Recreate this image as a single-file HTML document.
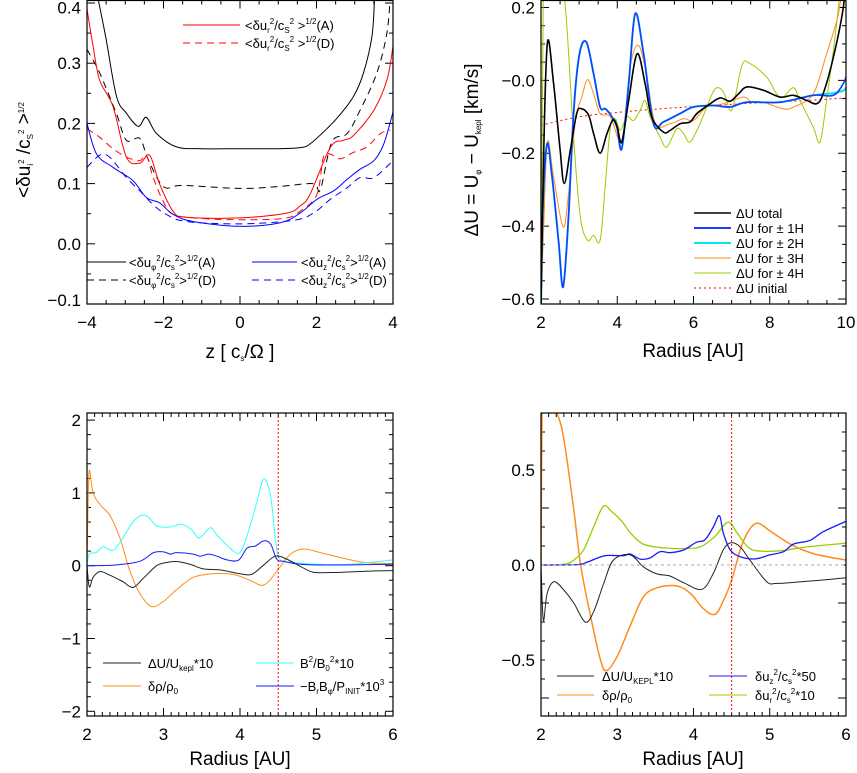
<!DOCTYPE html>
<html><head><meta charset="utf-8"><style>
html,body{margin:0;background:#fff;overflow:hidden;width:857px;height:773px}
svg{display:block;font-family:"Liberation Sans",sans-serif}
</style></head><body>
<svg id="fig" width="857" height="773" viewBox="0 0 857 773"></svg>
<script>
// ---- Panel 1 data (z vs rms velocity) ----
const p1_bA_x=[-3.72,-3.5,-3.23,-2.97,-2.66,-2.45,-2.18,-1.66,-1,0,1,1.6,1.83,2.27,2.62,2.97,3.23,3.45,3.52];
const p1_bA_y=[0.41,0.34,0.245,0.217,0.195,0.21,0.183,0.161,0.158,0.158,0.158,0.16,0.166,0.191,0.215,0.245,0.284,0.345,0.41];
const p1_bD_x=[-4,-3.67,-3.23,-2.97,-2.62,-2.4,-2.0,-1.5,0,1,1.9,2.1,2.4,2.8,3.14,3.58,3.84,3.93];
const p1_bD_y=[0.323,0.284,0.216,0.172,0.175,0.14,0.095,0.097,0.092,0.095,0.1,0.09,0.169,0.183,0.222,0.284,0.35,0.41];
const p1_rA_x=[-4,-3.84,-3.67,-3.32,-2.97,-2.62,-2.36,-2.1,-1.75,-1.4,0,1.22,1.57,1.83,2.36,2.71,2.97,3.5,3.84,4];
const p1_rA_y=[0.39,0.328,0.272,0.228,0.144,0.134,0.147,0.099,0.054,0.044,0.043,0.051,0.063,0.082,0.16,0.172,0.18,0.222,0.272,0.328];
const p1_rD_x=[-4,-3.67,-3.32,-2.97,-2.62,-2.45,-2.27,-2.01,-1.75,-1,0,1.14,1.57,2.01,2.18,2.36,2.62,2.97,3.32,3.67,3.93];
const p1_rD_y=[0.191,0.177,0.158,0.144,0.138,0.147,0.11,0.071,0.049,0.042,0.04,0.042,0.054,0.082,0.144,0.149,0.141,0.152,0.161,0.183,0.189];
const p1_zA_x=[-4,-3.75,-3.32,-2.8,-2.45,-2.1,-1.75,-1.23,0,1.05,1.57,2.01,2.45,2.8,3.14,3.5,3.76,4];
const p1_zA_y=[0.2,0.149,0.127,0.105,0.077,0.068,0.049,0.037,0.029,0.035,0.051,0.074,0.088,0.107,0.124,0.138,0.166,0.219];
const p1_zD_x=[-4,-3.67,-3.41,-2.97,-2.62,-2.27,-1.93,-1.4,0,1.4,1.92,2.36,2.8,3.14,3.5,4];
const p1_zD_y=[0.127,0.147,0.144,0.11,0.088,0.065,0.049,0.037,0.033,0.039,0.051,0.074,0.093,0.11,0.11,0.138];
// ---- Panel 2 data (Radius vs ΔU) ----
const p2_tot_x=[2.0,2.07,2.17,2.33,2.5,2.61,2.77,2.94,3.07,3.25,3.38,3.55,3.73,3.89,4.0,4.12,4.3,4.52,4.73,4.9,5.21,5.39,5.65,5.91,6.09,6.44,6.7,6.96,7.18,7.4,7.83,8.27,8.62,8.97,9.23,9.4,9.67,9.93,10];
const p2_tot_y=[-0.62,-0.2,0.105,-0.009,-0.19,-0.283,-0.19,-0.09,-0.078,-0.096,-0.146,-0.2,-0.146,-0.108,-0.128,-0.169,-0.055,0.073,-0.009,-0.1,-0.142,-0.137,-0.119,-0.114,-0.091,-0.064,-0.048,-0.057,-0.037,-0.018,-0.027,-0.046,-0.041,-0.055,-0.064,-0.037,0.064,0.2,0.3];
const p2_h1_x=[2.0,2.05,2.16,2.29,2.46,2.58,2.72,2.86,3.01,3.19,3.38,3.55,3.69,3.86,3.99,4.12,4.3,4.47,4.69,4.95,5.21,5.65,6.0,6.53,6.96,7.4,8.27,9.14,9.67,9.93,10];
const p2_h1_y=[-0.62,-0.35,-0.174,-0.265,-0.44,-0.567,-0.375,-0.082,0.073,0.105,0.018,-0.073,-0.078,-0.1,-0.128,-0.187,-0.009,0.183,0.073,-0.119,-0.114,-0.091,-0.073,-0.069,-0.073,-0.06,-0.06,-0.041,-0.041,-0.009,0.01];
const p2_h2_y=[-0.62,-0.35,-0.174,-0.265,-0.44,-0.567,-0.375,-0.082,0.073,0.105,0.018,-0.073,-0.078,-0.1,-0.128,-0.187,-0.009,0.183,0.073,-0.119,-0.114,-0.091,-0.073,-0.069,-0.073,-0.06,-0.06,-0.041,-0.035,-0.028,-0.02];
const p2_h3_x=[2.0,2.07,2.17,2.33,2.58,2.72,2.9,3.07,3.22,3.38,3.55,3.82,4.12,4.34,4.56,4.78,5.0,5.39,5.74,6.0,6.35,6.79,7.31,7.53,7.83,8.35,8.62,9.14,9.49,9.76,9.86];
const p2_h3_y=[-0.62,-0.4,-0.169,-0.265,-0.402,-0.311,-0.11,-0.046,0.002,-0.037,-0.091,-0.1,-0.165,0.037,0.096,0.009,-0.119,-0.119,-0.105,-0.11,-0.073,-0.064,-0.046,-0.06,-0.06,-0.078,-0.073,-0.037,0.073,0.164,0.22];
const p2_h4_x=[2.0,2.05,2.1,2.4,2.64,2.86,3.03,3.22,3.38,3.55,3.69,3.82,3.95,4.08,4.25,4.43,4.6,4.73,4.86,5.12,5.3,5.56,5.74,5.91,6.17,6.35,6.57,6.79,7.0,7.27,7.48,7.92,8.18,8.35,8.62,8.79,9.14,9.32,9.49,9.67,9.8,9.85];
const p2_h4_y=[-0.62,0.1,0.35,0.35,0.2,-0.165,-0.375,-0.439,-0.425,-0.439,-0.283,-0.128,-0.105,-0.137,-0.1,-0.11,-0.082,-0.055,-0.1,-0.155,-0.183,-0.133,-0.146,-0.169,-0.119,-0.073,-0.023,-0.032,-0.082,0.041,0.046,0.009,-0.037,-0.046,-0.02,-0.055,-0.128,-0.169,-0.055,0.082,0.2,0.25];
const p2_init_x=[2,3,4,5,6,7,8,9,10];
const p2_init_y=[-0.123,-0.100,-0.088,-0.079,-0.072,-0.066,-0.060,-0.055,-0.048];
// ---- Panel 3 data ----
const p3_du_x=[2.0,2.03,2.08,2.17,2.3,2.47,2.6,2.73,2.91,3.04,3.17,3.34,3.52,3.74,4.0,4.15,4.3,4.46,4.61,4.79,4.96,5.22,5.66,6.0];
const p3_du_y=[0,-0.29,-0.16,-0.08,-0.13,-0.22,-0.3,-0.18,0,0.044,0.058,0.022,-0.044,-0.058,-0.11,-0.12,0,0.13,0.09,-0.01,-0.089,-0.093,-0.075,-0.067];
const p3_rho_x=[2.0,2.015,2.03,2.08,2.17,2.3,2.43,2.56,2.69,2.84,3.0,3.17,3.39,3.65,3.91,4.13,4.28,4.39,4.52,4.66,4.83,5.05,5.4,5.66,6.0];
const p3_rho_y=[0,0.87,1.31,1.0,0.84,0.69,0.38,-0.07,-0.38,-0.56,-0.49,-0.33,-0.16,-0.11,-0.12,-0.2,-0.27,-0.2,-0.02,0.16,0.23,0.18,0.09,0.04,0.03];
const p3_b2_x=[2.0,2.03,2.12,2.21,2.34,2.47,2.6,2.71,2.8,2.91,3.08,3.24,3.37,3.47,3.61,3.7,3.87,4.0,4.11,4.22,4.31,4.4,4.46,4.52,4.66,5.0,5.45,6.0];
const p3_b2_y=[0,0.16,0.18,0.26,0.21,0.38,0.6,0.69,0.67,0.55,0.53,0.57,0.49,0.38,0.52,0.42,0.24,0.18,0.47,0.87,1.19,0.96,0.38,0.09,0.05,0.02,0.02,0.08];
const p3_bb_x=[2.0,2.38,2.69,2.87,3.0,3.09,3.17,3.39,3.48,3.59,3.7,3.83,3.98,4.09,4.2,4.31,4.4,4.48,4.57,4.79,5.22,6.0];
const p3_bb_y=[0,0.01,0.06,0.18,0.19,0.16,0.18,0.16,0.13,0.16,0.13,0.08,0.075,0.24,0.27,0.34,0.3,0.09,0.06,0.02,0.01,0.02];
// ---- Panel 4 data ----
const p4_du_x=[2.0,2.03,2.08,2.17,2.3,2.43,2.58,2.69,2.82,2.95,3.17,3.34,3.52,3.69,3.87,4.11,4.26,4.39,4.49,4.61,4.74,4.96,5.09,5.35,5.7,6.0];
const p4_du_y=[0,-0.29,-0.15,-0.088,-0.132,-0.2,-0.3,-0.246,-0.1,0.026,0.053,-0.009,-0.047,-0.058,-0.093,-0.128,-0.044,0.079,0.117,0.096,0.026,-0.088,-0.097,-0.09,-0.079,-0.067];
const p4_rho_x=[2.0,2.015,2.05,2.21,2.3,2.43,2.52,2.65,2.78,2.86,3.0,3.17,3.34,3.52,3.78,3.96,4.13,4.28,4.39,4.5,4.63,4.74,4.85,5.0,5.27,5.57,6.0];
const p4_rho_y=[0,0.85,0.95,0.8,0.66,0.29,0,-0.27,-0.5,-0.556,-0.48,-0.32,-0.17,-0.12,-0.11,-0.15,-0.23,-0.26,-0.19,-0.08,0.1,0.19,0.22,0.18,0.11,0.06,0.026];
const p4_uz_x=[2.0,2.47,2.6,2.73,2.86,3.08,3.17,3.3,3.43,3.56,3.69,3.87,4.04,4.15,4.26,4.34,4.39,4.48,4.61,4.81,5.0,5.18,5.31,5.53,5.7,6.0];
const p4_uz_y=[0,0.002,0.014,0.035,0.05,0.049,0.058,0.031,0.037,0.07,0.065,0.079,0.12,0.132,0.2,0.26,0.17,0.08,0.044,0.032,0.053,0.07,0.11,0.13,0.175,0.23];
const p4_ur_x=[2.0,2.3,2.43,2.56,2.69,2.82,2.93,3.06,3.17,3.34,3.61,3.87,4.09,4.28,4.45,4.57,4.7,4.83,5.14,5.48,6.0];
const p4_ur_y=[0,0.003,0.026,0.08,0.2,0.31,0.28,0.23,0.17,0.11,0.09,0.087,0.096,0.15,0.225,0.17,0.1,0.075,0.075,0.095,0.115];

const NS="http://www.w3.org/2000/svg";
const fig=document.getElementById('fig');
function mk(tag,attrs,parent){const e=document.createElementNS(NS,tag);for(const k in attrs)e.setAttribute(k,attrs[k]);(parent||fig).appendChild(e);return e;}
function spline(pts){let d='M'+pts[0][0].toFixed(1)+','+pts[0][1].toFixed(1);
 for(let i=0;i<pts.length-1;i++){const p0=pts[Math.max(0,i-1)],p1=pts[i],p2=pts[i+1],p3=pts[Math.min(pts.length-1,i+2)];
  const c1=[p1[0]+(p2[0]-p0[0])/6,p1[1]+(p2[1]-p0[1])/6],c2=[p2[0]-(p3[0]-p1[0])/6,p2[1]-(p3[1]-p1[1])/6];
  d+=' C'+c1[0].toFixed(1)+','+c1[1].toFixed(1)+' '+c2[0].toFixed(1)+','+c2[1].toFixed(1)+' '+p2[0].toFixed(1)+','+p2[1].toFixed(1);}
 return d;}
function panel(o){
 const g=mk('g',{});
 
 
 const sx=v=>o.L+(v-o.x0)/(o.x1-o.x0)*(o.R-o.L);
 const sy=v=>o.yb+(v-o.v0)/(o.v1-o.v0)*(o.ya-o.yb);
 const cid='clip'+o.name;
 const cp=mk('clipPath',{id:cid},g);mk('rect',{x:o.L,y:o.T,width:o.R-o.L,height:o.B-o.T},cp);
 const tk=mk('g',{stroke:'#000','stroke-width':1},g);
 
 
 const eps=1e-6;
 for(let v=o.x0;v<=o.x1+eps;v+=o.xmin){const X=sx(v);const maj=Math.abs(((v-o.x0)/o.xmaj)-Math.round((v-o.x0)/o.xmaj))<1e-4;const l=maj?8:4;
  mk('line',{x1:X,x2:X,y1:o.B,y2:o.B-l},tk);mk('line',{x1:X,x2:X,y1:o.T,y2:o.T+l},tk);}
 for(let v=o.ymajStart;v<=o.v1+eps;v+=o.ymin){const Y=sy(v);const maj=Math.abs(((v-o.ymajStart)/o.ymaj)-Math.round((v-o.ymajStart)/o.ymaj))<1e-4;const l=maj?8:4;
  if(Y<o.T-0.5||Y>o.B+0.5)continue;
  mk('line',{x1:o.L,x2:o.L+l,y1:Y,y2:Y},tk);mk('line',{x1:o.R,x2:o.R-l,y1:Y,y2:Y},tk);}
 o.xt.forEach(t=>{const e=mk('text',{x:sx(t),y:o.B+24,'font-size':17,'text-anchor':'middle'},g);e.textContent=(t<0?'\u2212':'')+Math.abs(t);
  
  });
 o.yt.forEach((t,i)=>{const e=mk('text',{x:o.L-6,y:Math.min(Math.max(sy(t)+6,o.T+13),o.B+2),'font-size':17,'text-anchor':'end'},g);e.textContent=o.ytl[i];
  
  });
 const plot=mk('g',{'clip-path':'url(#'+cid+')',fill:'none'},g);
 o.series.forEach(s=>{const pts=s.x.map((v,i)=>[sx(v),sy(s.y[i])]);
  const p=mk('path',{d:spline(pts),stroke:s.c,'stroke-width':s.w||1,'stroke-dasharray':s.dash||'none'},plot);
  
  });
 (o.extra||[]).forEach(f=>f(plot,sx,sy));
 const fr=mk('rect',{x:o.L,y:o.T,width:o.R-o.L,height:o.B-o.T,fill:'none',stroke:'#000','stroke-width':1.2},g);
 
 
 return g;}
function txt(x,y,html,size,attrs){const e=mk('text',Object.assign({x:x,y:y,'font-size':size||13},attrs||{}));e.innerHTML=html;return e;}
function leg(x1,x2,y,c,dash,tx,label,name,w){
 const l=mk('line',{x1:x1,x2:x2,y1:y,y2:y,stroke:c,'stroke-width':w||1,'stroke-dasharray':dash||'none'});
 
 
 const t=txt(tx,y+5,label,13);
 
 }
const sub=s=>'<tspan font-size="8" dy="3">'+s+'</tspan><tspan dy="-3">\u200b</tspan>';
const sup=s=>'<tspan font-size="8" dy="-6">'+s+'</tspan><tspan dy="6">\u200b</tspan>';

// Panel 1
panel({name:'panel-velocity-rms',L:87,R:393,T:0.5,B:304,x0:-4,x1:4,v0:-0.1,v1:0.4,yb:304,ya:3,
 xmaj:2,xmin:0.5,ymaj:0.1,ymin:0.05,ymajStart:-0.1,xt:[-4,-2,0,2,4],yt:[-0.1,0,0.1,0.2,0.3,0.4],ytl:['\u22120.1','0.0','0.1','0.2','0.3','0.4'],
 series:[
 {x:p1_bA_x,y:p1_bA_y,c:'#000',n:'phi-A-line'},
 {x:p1_bD_x,y:p1_bD_y,c:'#000',dash:'7,5',n:'phi-D-line'},
 {x:p1_rA_x,y:p1_rA_y,c:'#f00',n:'r-A-line'},
 {x:p1_rD_x,y:p1_rD_y,c:'#f00',dash:'7,5',n:'r-D-line'},
 {x:p1_zA_x,y:p1_zA_y,c:'#00f',n:'z-A-line'},
 {x:p1_zD_x,y:p1_zD_y,c:'#00f',dash:'7,5',n:'z-D-line'}]});
leg(183,240,25,'#f00','','245','&lt;δu'+sub('r')+sup('2')+'/c'+sub('S')+sup('2')+' &gt;'+sup('1/2')+'(A)','legend-r-A');
leg(183,240,43,'#f00','7,5','245','&lt;δu'+sub('r')+sup('2')+'/c'+sub('S')+sup('2')+' &gt;'+sup('1/2')+'(D)','legend-r-D');
leg(87,126,262,'#000','',129,'&lt;δu'+sub('φ')+sup('2')+'/c'+sub('s')+sup('2')+'&gt;'+sup('1/2')+'(A)','legend-phi-A');
leg(87,126,280,'#000','7,5',129,'&lt;δu'+sub('φ')+sup('2')+'/c'+sub('s')+sup('2')+'&gt;'+sup('1/2')+'(D)','legend-phi-D');
leg(252,297,262,'#00f','',301,'&lt;δu'+sub('z')+sup('2')+'/c'+sub('s')+sup('2')+'&gt;'+sup('1/2')+'(A)','legend-z-A');
leg(252,297,280,'#00f','7,5',301,'&lt;δu'+sub('z')+sup('2')+'/c'+sub('s')+sup('2')+'&gt;'+sup('1/2')+'(D)','legend-z-D');
(function(){const t=txt(240,358,'z [ c'+sub('s')+'/Ω ]',19,{'text-anchor':'middle'});
 const y=txt(0,0,'&lt;δu'+sub('i')+sup('2')+' /c'+sub('S')+sup('2')+' &gt;'+sup('1/2'),19,{'text-anchor':'middle',transform:'translate(30,150) rotate(-90)'});
 })();

// Panel 2
panel({name:'panel-delta-u',L:541,R:846,T:0.5,B:304,x0:2,x1:10,v0:-0.6-5/365,v1:0.2+7/365,yb:304,ya:0.5,
 xmaj:2,xmin:0.5,ymaj:0.2,ymin:0.05,ymajStart:-0.6,xt:[2,4,6,8,10],yt:[-0.6,-0.4,-0.2,0,0.2],ytl:['\u22120.6','\u22120.4','\u22120.2','\u22120.0','0.2'],
 series:[
 {x:p2_init_x,y:p2_init_y,c:'#f00',dash:'2,3',n:'initial-line'},
 {x:p2_h4_x,y:p2_h4_y,c:'#99cc00',n:'4H-line'},
 {x:p2_h3_x,y:p2_h3_y,c:'#ff8c1a',n:'3H-line'},
 {x:p2_h1_x,y:p2_h2_y,c:'#00e5ee',w:2,n:'2H-line'},
 {x:p2_h1_x,y:p2_h1_y,c:'#1a3cff',w:1.6,n:'1H-line'},
 {x:p2_tot_x,y:p2_tot_y,c:'#000',w:1.6,n:'total-line'}]});
leg(694,731,213,'#000','',736,'ΔU total','legend-total',1.5);
leg(694,731,228,'#1a3cff','',736,'ΔU for ± 1H','legend-1H',2);
leg(694,731,243,'#00e5ee','',736,'ΔU for ± 2H','legend-2H',2);
leg(694,731,258,'#ff8c1a','',736,'ΔU for ± 3H','legend-3H');
leg(694,731,273,'#99cc00','',736,'ΔU for ± 4H','legend-4H');
leg(694,731,288,'#f00','2,3',736,'ΔU initial','legend-initial');
(function(){const t=txt(693,357,'Radius [AU]',19,{'text-anchor':'middle'});
 const y=txt(0,0,'ΔU = U'+sub('φ')+' − U'+sub('kepl')+' [km/s]',19,{'text-anchor':'middle',transform:'translate(478,150) rotate(-90)'});
 })();

// Panel 3
function vline(plot,sx,sy){const l=mk('line',{x1:sx(4.5),x2:sx(4.5),y1:400,y2:720,stroke:'#f00','stroke-dasharray':'2,2','stroke-width':1},plot);
 }
panel({name:'panel-magnetic',L:87,R:393,T:413,B:716,x0:2,x1:6,v0:-(716-565.7)/72.8,v1:(565.7-413)/72.8,yb:716,ya:413,
 xmaj:1,xmin:0.1,ymaj:1,ymin:0.2,ymajStart:-2,xt:[2,3,4,5,6],yt:[-2,-1,0,1,2],ytl:['\u22122','\u22121','0','1','2'],
 series:[
 {x:p3_rho_x,y:p3_rho_y,c:'#ff8c1a',n:'density-line'},
 {x:p3_b2_x,y:p3_b2_y,c:'#33ffff',n:'b2-line'},
 {x:p3_bb_x,y:p3_bb_y,c:'#1a1aff',n:'stress-line'},
 {x:p3_du_x,y:p3_du_y,c:'#222',n:'delta-u-line'}],extra:[vline]});
leg(103,141,663,'#222','',148,'ΔU/U'+sub('kepl')+'*10','legend-du-3');
leg(103,141,686,'#ff8c1a','',148,'δρ/ρ'+sub('0'),'legend-rho-3');
leg(256,294,663,'#33ffff','',300,'B'+sup('2')+'/B'+sub('0')+sup('2')+'*10','legend-b2');
leg(256,294,686,'#1a1aff','',300,'−B'+sub('r')+'B'+sub('φ')+'/P'+sub('INIT')+'*10'+sup('3'),'legend-stress');
(function(){const t=txt(240,765,'Radius [AU]',19,{'text-anchor':'middle'});})();

// Panel 4
function zline(plot,sx,sy){const l=mk('line',{x1:sx(2),x2:sx(6),y1:sy(0),y2:sy(0),stroke:'#aaa','stroke-dasharray':'3,3'},plot);
 vline(plot,sx,sy);}
panel({name:'panel-turbulence',L:541,R:846,T:413,B:716,x0:2,x1:6,v0:-(716-565)/190,v1:(565-413)/190,yb:716,ya:413,
 xmaj:1,xmin:0.1,ymaj:0.5,ymin:0.1,ymajStart:-0.7,xt:[2,3,4,5,6],yt:[-0.5,0,0.5],ytl:['\u22120.5','0.0','0.5'],
 series:[
 {x:p4_rho_x,y:p4_rho_y,c:'#ff8c1a',w:1.5,n:'density-line-4'},
 {x:p4_ur_x,y:p4_ur_y,c:'#99cc00',w:1.3,n:'ur-line'},
 {x:p4_uz_x,y:p4_uz_y,c:'#1a1aff',w:1.3,n:'uz-line'},
 {x:p4_du_x,y:p4_du_y,c:'#222',n:'delta-u-line-4'}],extra:[zline]});
leg(557,594,676,'#222','',602,'ΔU/U'+sub('KEPL')+'*10','legend-du-4');
leg(557,594,695,'#ff8c1a','',602,'δρ/ρ'+sub('0'),'legend-rho-4');
leg(709,747,676,'#1a1aff','',755,'δu'+sub('z')+sup('2')+'/c'+sub('s')+sup('2')+'*50','legend-uz');
leg(709,747,695,'#99cc00','',755,'δu'+sub('r')+sup('2')+'/c'+sub('s')+sup('2')+'*10','legend-ur');
(function(){const t=txt(693,765,'Radius [AU]',19,{'text-anchor':'middle'});})();
</script>
</body></html>
